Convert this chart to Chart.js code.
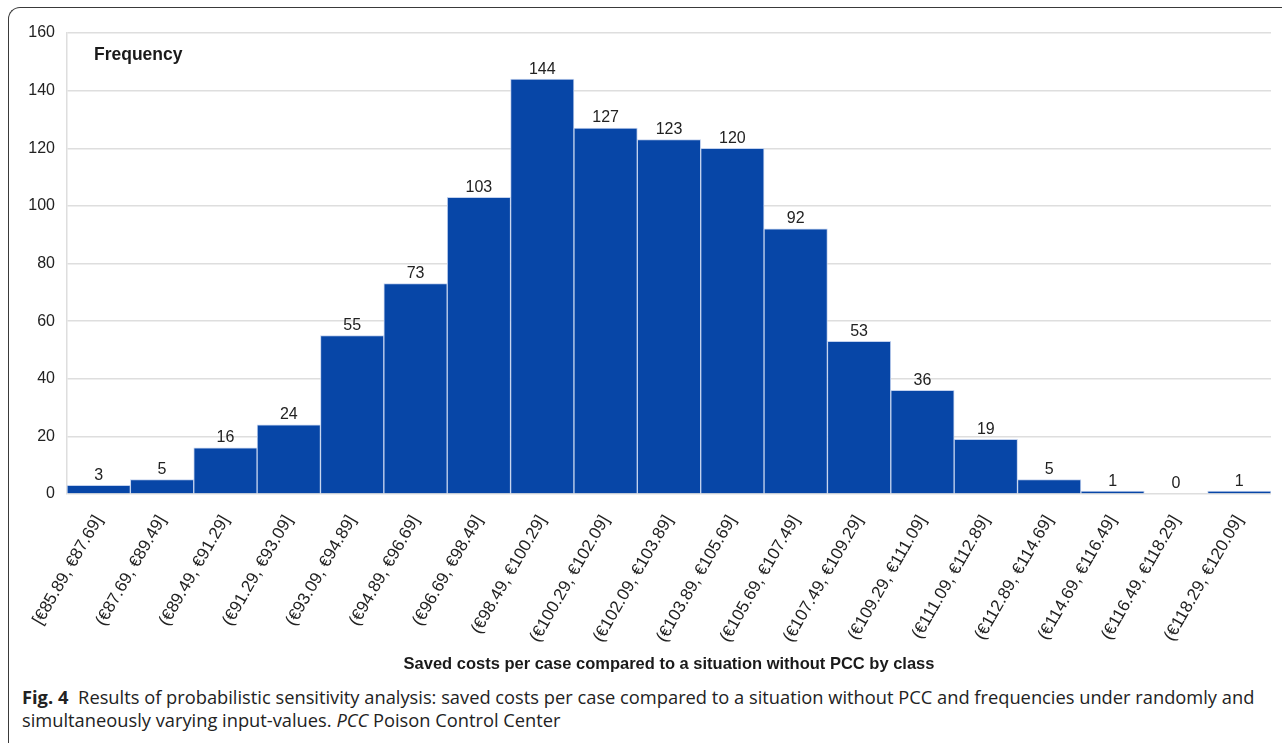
<!DOCTYPE html>
<html>
<head>
<meta charset="utf-8">
<script src="https://cdn.jsdelivr.net/npm/chart.js@4/dist/chart.umd.min.js"></script>
<style>
    html, body { margin: 0; padding: 0; background: #fff; }
    body { width: 1282px; height: 743px; position: relative; overflow: hidden; }
    #frame {
        position: absolute; left: 8px; top: 7px; width: 1400px; height: 900px;
        border-left: 1.5px solid #3a3a3a; border-top: 1.5px solid #3a3a3a;
        border-top-left-radius: 12px;
    }
    #wrap { position: absolute; left: 0; top: 0; width: 1282px; height: 680px; }
    #caption {
        position: absolute; left: 22px; top: 685px; width: 1258px;
        font-family: "Open Sans", "Noto Sans", sans-serif; font-size: 18.3px;
        line-height: 23px; color: #222; white-space: nowrap;
    }
    #caption b { font-weight: 700; margin-right: 5px; }
</style>
</head>
<body>
<div id="frame"></div>
<div id="wrap"><canvas id="hist"></canvas></div>
<div id="caption"><b>Fig. 4</b> Results of probabilistic sensitivity analysis: saved costs per case compared to a situation without PCC and frequencies under randomly and<br>simultaneously varying input-values. <i>PCC</i> Poison Control Center</div>
<script>
// ------------------------------------------------------------
// Saved costs per case — frequency by class
// ------------------------------------------------------------

const classLabels = [
    "[€85.89, €87.69]", "(€87.69, €89.49]", "(€89.49, €91.29]", "(€91.29, €93.09]",
    "(€93.09, €94.89]", "(€94.89, €96.69]", "(€96.69, €98.49]", "(€98.49, €100.29]",
    "(€100.29, €102.09]", "(€102.09, €103.89]", "(€103.89, €105.69]", "(€105.69, €107.49]",
    "(€107.49, €109.29]", "(€109.29, €111.09]", "(€111.09, €112.89]", "(€112.89, €114.69]",
    "(€114.69, €116.49]", "(€116.49, €118.29]", "(€118.29, €120.09]"
];
const frequencies = [3, 5, 16, 24, 55, 73, 103, 144, 127, 123, 120, 92, 53, 36, 19, 5, 1, 0, 1];
const yTicks = [0, 20, 40, 60, 80, 100, 120, 140, 160];

const BAR_BLUE = "#0746a7";
const FONT = "'Liberation Sans', Arial, sans-serif";

// draws the count above each bar
const valueLabels = {
    id: "valueLabels",
    afterDatasetsDraw(chart) {
        const ctx = chart.ctx;
        const meta = chart.getDatasetMeta(0);
        ctx.save();
        ctx.font = "16px " + FONT;
        ctx.fillStyle = "#222";
        ctx.textAlign = "center";
        ctx.textBaseline = "bottom";
        meta.data.forEach((bar, i) => {
            ctx.fillText(String(chart.data.datasets[0].data[i]), bar.x, bar.y - 2);
        });
        ctx.restore();
    }
};

// "Frequency" heading inside the plot
const yHeading = {
    id: "yHeading",
    afterDraw(chart) {
        const ctx = chart.ctx;
        ctx.save();
        ctx.font = "bold 17.5px " + FONT;
        ctx.fillStyle = "#1a1a1a";
        ctx.textAlign = "left";
        ctx.textBaseline = "middle";
        ctx.fillText("Frequency", chart.chartArea.left + 27, 55);
        ctx.restore();
    }
};

new Chart(document.getElementById("hist").getContext("2d"), {
    type: "bar",
    data: {
        labels: classLabels,
        datasets: [{
            label: "Frequency",
            data: frequencies,
            backgroundColor: BAR_BLUE,
            borderColor: "#c3d2ee",
            borderWidth: 1,
            categoryPercentage: 1.0,
            barPercentage: 1.0
        }]
    },
    options: {
        responsive: true,
        maintainAspectRatio: false,
        animation: false,
        layout: { padding: { top: 33, right: 11, left: 0, bottom: 0 } },
        plugins: {
            legend: { display: false },
            tooltip: { enabled: false }
        },
        scales: {
            x: {
                grid: { display: false },
                border: { display: false },
                ticks: {
                    color: "#222",
                    font: { family: FONT, size: 17 },
                    minRotation: 60,
                    maxRotation: 60,
                    autoSkip: false,
                    padding: 10
                },
                title: {
                    display: true,
                    text: "Saved costs per case compared to a situation without PCC by class",
                    color: "#1a1a1a",
                    font: { family: FONT, size: 16.5, weight: "bold" },
                    padding: { top: 4, bottom: 6 }
                },
                afterFit(scale) { scale.height = 186; }
            },
            y: {
                min: 0,
                max: 160,
                afterBuildTicks(scale) { scale.ticks = yTicks.map(v => ({ value: v })); },
                grid: { color: "#dedede", lineWidth: 1.5, drawTicks: false },
                border: { display: true, color: "#dedede", width: 1.5 },
                ticks: {
                    color: "#222",
                    font: { family: FONT, size: 16 },
                    padding: 12
                },
                afterFit(scale) { scale.width = 67; }
            }
        }
    },
    plugins: [valueLabels, yHeading]
});
</script>
</body>
</html>
